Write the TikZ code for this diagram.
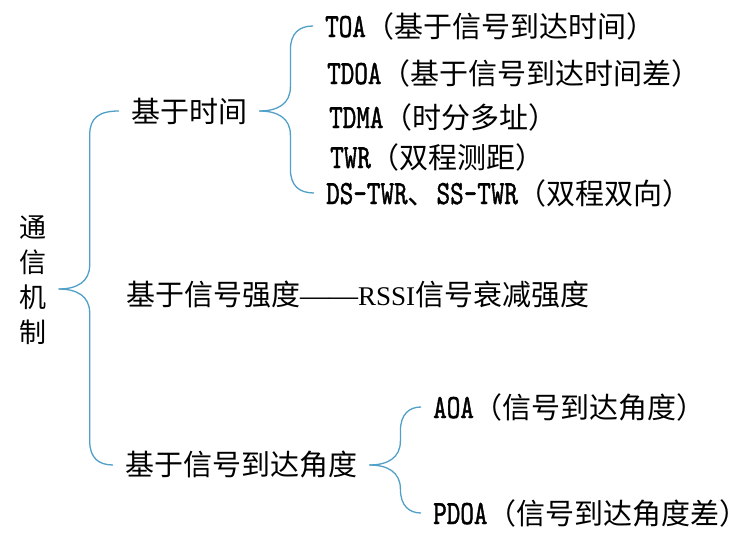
\documentclass[tikz,border=0pt]{standalone}
\usepackage{fontspec}
\usepackage{tikz}
\usetikzlibrary{positioning,calc}
\setmainfont{Liberation Serif}
\newfontfamily\cjk{Noto Sans CJK SC}
\newfontfamily\narrowlatin[FakeStretch=0.76,FakeBold=1.2]{lmmono10-regular.otf}
\newcommand{\acro}[1]{{\narrowlatin\fontsize{34}{34}\selectfont #1}}
\newcommand{\longdash}{{\rmfamily\fontsize{29}{34}\selectfont ——}}
\newcommand{\lpar}{\makebox[1em][r]{（}}
\newcommand{\rpar}{\makebox[1em][l]{）}}
\definecolor{bracecol}{RGB}{80,160,200}
\tikzset{
  txt/.style={anchor=west, inner xsep=12pt, inner ysep=2pt, font=\cjk\fontsize{29}{34}\selectfont},
  root/.style={align=center, inner xsep=12pt, font=\cjk\fontsize{27}{35}\selectfont},
  brace/.style={draw=bracecol, line width=1.3pt, to path={
    let \p1=(\tikztostart), \p2=(\tikztotarget), \n1={ifthenelse(\y2>\y1,1,-1)} in
    (\p1) .. controls (\x1+18pt,\y1) and (\x1+31pt,{\y1+\n1*7pt}) .. (\x1+31pt,{\y1+\n1*24pt})
    -- (\x1+31pt,{\y2-\n1*24pt}) .. controls (\x1+31pt,{\y2-\n1*7pt}) and (\x1+40pt,\y2) .. (\p2)}}
}
\begin{document}
\begin{tikzpicture}[x=1pt,y=-1pt]
    \useasboundingbox (0,0) rectangle (756,541);
    % root
    \node[root] (mech) at (33,280) {通\\信\\机\\制};
    \coordinate (mtip) at ([yshift=-9pt]mech.east);
    % first level
    \node[txt] (time) at (119,111) {基于时间};
    \node[txt] (rssi) at (114,295) {基于信号强度\longdash{\rmfamily\fontsize{27}{34}\selectfont RSSI}信号衰减强度};
    \node[txt] (angle) at (113,465) {基于信号到达角度};
    % time based
    \node[txt] (toa) at (313,26) {\acro{TOA}\lpar 基于信号到达时间\rpar};
    \node[txt] (tdoa) at (315,73) {\acro{TDOA}\lpar 基于信号到达时间差\rpar};
    \node[txt] (tdma) at (317,117) {\acro{TDMA}\lpar 时分多址\rpar};
    \node[txt] (twr) at (318,157) {\acro{TWR}\lpar 双程测距\rpar};
    \node[txt] (dstwr) at (314,193) {\acro{DS-TWR}、\acro{SS-TWR}\lpar 双程双向\rpar};
    % angle based
    \node[txt] (aoa) at (421,407) {\acro{AOA}\lpar 信号到达角度\rpar};
    \node[txt] (pdoa) at (421,513) {\acro{PDOA}\lpar 信号到达角度差\rpar};
    % braces
    \draw[brace] (mtip) to (time.west);
    \draw[brace] (mtip) to (angle.west);
    \draw[brace] (time.east) to (toa.west);
    \draw[brace] (time.east) to (dstwr.west);
    \draw[brace] (angle.east) to (aoa.west);
    \draw[brace] (angle.east) to (pdoa.west);
\end{tikzpicture}
\end{document}
